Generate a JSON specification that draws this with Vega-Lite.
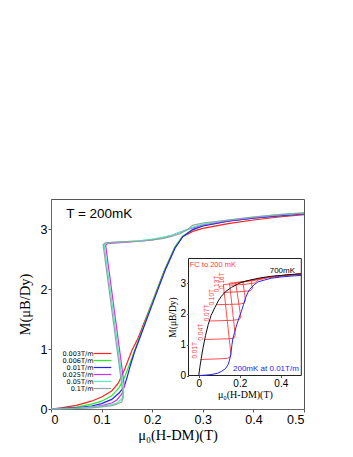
{
  "$schema": "https://vega.github.io/schema/vega-lite/v6.json",
  "autosize": "none",
  "width": 253,
  "height": 210,
  "padding": {"left": 51, "top": 199, "right": 49, "bottom": 48},
  "background": "white",
  "config": {
    "view": {"stroke": "#555", "strokeWidth": 1},
    "axis": {"grid": false, "domainColor": "#666", "tickColor": "#555", "labelFont": "Liberation Sans", "titleFont": "Liberation Serif", "titleFontWeight": "normal", "labelColor": "#000", "titleColor": "#000"}
  },
  "datasets": {
    "main": [
      {"s": "0.003T/m", "i": 0, "h": 0, "m": 0},
      {"s": "0.003T/m", "i": 1, "h": 0.02, "m": 0.02},
      {"s": "0.003T/m", "i": 2, "h": 0.05, "m": 0.06},
      {"s": "0.003T/m", "i": 3, "h": 0.08, "m": 0.13},
      {"s": "0.003T/m", "i": 4, "h": 0.1, "m": 0.2},
      {"s": "0.003T/m", "i": 5, "h": 0.12, "m": 0.3},
      {"s": "0.003T/m", "i": 6, "h": 0.133, "m": 0.43},
      {"s": "0.003T/m", "i": 7, "h": 0.145, "m": 0.65},
      {"s": "0.003T/m", "i": 8, "h": 0.16, "m": 0.98},
      {"s": "0.003T/m", "i": 9, "h": 0.172, "m": 1.18},
      {"s": "0.003T/m", "i": 10, "h": 0.2, "m": 1.78},
      {"s": "0.003T/m", "i": 11, "h": 0.225, "m": 2.33},
      {"s": "0.003T/m", "i": 12, "h": 0.245, "m": 2.7},
      {"s": "0.003T/m", "i": 13, "h": 0.26, "m": 2.87},
      {"s": "0.003T/m", "i": 14, "h": 0.28, "m": 2.96},
      {"s": "0.003T/m", "i": 15, "h": 0.3, "m": 3.01},
      {"s": "0.003T/m", "i": 16, "h": 0.35, "m": 3.09},
      {"s": "0.003T/m", "i": 17, "h": 0.4, "m": 3.15},
      {"s": "0.003T/m", "i": 18, "h": 0.45, "m": 3.2},
      {"s": "0.003T/m", "i": 19, "h": 0.5, "m": 3.24},

      {"s": "0.006T/m", "i": 0, "h": 0, "m": 0},
      {"s": "0.006T/m", "i": 1, "h": 0.02, "m": 0.01},
      {"s": "0.006T/m", "i": 2, "h": 0.05, "m": 0.03},
      {"s": "0.006T/m", "i": 3, "h": 0.08, "m": 0.08},
      {"s": "0.006T/m", "i": 4, "h": 0.1, "m": 0.13},
      {"s": "0.006T/m", "i": 5, "h": 0.12, "m": 0.22},
      {"s": "0.006T/m", "i": 6, "h": 0.135, "m": 0.36},
      {"s": "0.006T/m", "i": 7, "h": 0.145, "m": 0.52},
      {"s": "0.006T/m", "i": 8, "h": 0.155, "m": 0.74},
      {"s": "0.006T/m", "i": 9, "h": 0.165, "m": 0.97},
      {"s": "0.006T/m", "i": 10, "h": 0.173, "m": 1.15},
      {"s": "0.006T/m", "i": 11, "h": 0.2, "m": 1.77},
      {"s": "0.006T/m", "i": 12, "h": 0.225, "m": 2.32},
      {"s": "0.006T/m", "i": 13, "h": 0.245, "m": 2.7},
      {"s": "0.006T/m", "i": 14, "h": 0.26, "m": 2.88},
      {"s": "0.006T/m", "i": 15, "h": 0.28, "m": 2.99},
      {"s": "0.006T/m", "i": 16, "h": 0.3, "m": 3.05},
      {"s": "0.006T/m", "i": 17, "h": 0.35, "m": 3.13},
      {"s": "0.006T/m", "i": 18, "h": 0.4, "m": 3.18},
      {"s": "0.006T/m", "i": 19, "h": 0.45, "m": 3.22},
      {"s": "0.006T/m", "i": 20, "h": 0.5, "m": 3.25},

      {"s": "0.01T/m", "i": 0, "h": 0, "m": 0},
      {"s": "0.01T/m", "i": 1, "h": 0.02, "m": 0.01},
      {"s": "0.01T/m", "i": 2, "h": 0.05, "m": 0.02},
      {"s": "0.01T/m", "i": 3, "h": 0.08, "m": 0.05},
      {"s": "0.01T/m", "i": 4, "h": 0.1, "m": 0.09},
      {"s": "0.01T/m", "i": 5, "h": 0.12, "m": 0.16},
      {"s": "0.01T/m", "i": 6, "h": 0.135, "m": 0.27},
      {"s": "0.01T/m", "i": 7, "h": 0.145, "m": 0.38},
      {"s": "0.01T/m", "i": 8, "h": 0.15, "m": 0.52},
      {"s": "0.01T/m", "i": 9, "h": 0.157, "m": 0.73},
      {"s": "0.01T/m", "i": 10, "h": 0.165, "m": 0.95},
      {"s": "0.01T/m", "i": 11, "h": 0.174, "m": 1.15},
      {"s": "0.01T/m", "i": 12, "h": 0.2, "m": 1.74},
      {"s": "0.01T/m", "i": 13, "h": 0.225, "m": 2.3},
      {"s": "0.01T/m", "i": 14, "h": 0.245, "m": 2.68},
      {"s": "0.01T/m", "i": 15, "h": 0.26, "m": 2.87},
      {"s": "0.01T/m", "i": 16, "h": 0.28, "m": 2.99},
      {"s": "0.01T/m", "i": 17, "h": 0.3, "m": 3.05},
      {"s": "0.01T/m", "i": 18, "h": 0.35, "m": 3.13},
      {"s": "0.01T/m", "i": 19, "h": 0.4, "m": 3.18},
      {"s": "0.01T/m", "i": 20, "h": 0.45, "m": 3.22},
      {"s": "0.01T/m", "i": 21, "h": 0.5, "m": 3.25},

      {"s": "0.025T/m", "i": 0, "h": 0, "m": 0},
      {"s": "0.025T/m", "i": 1, "h": 0.02, "m": 0.005},
      {"s": "0.025T/m", "i": 2, "h": 0.05, "m": 0.015},
      {"s": "0.025T/m", "i": 3, "h": 0.08, "m": 0.035},
      {"s": "0.025T/m", "i": 4, "h": 0.1, "m": 0.055},
      {"s": "0.025T/m", "i": 5, "h": 0.12, "m": 0.1},
      {"s": "0.025T/m", "i": 6, "h": 0.13, "m": 0.15},
      {"s": "0.025T/m", "i": 7, "h": 0.14, "m": 0.25},
      {"s": "0.025T/m", "i": 8, "h": 0.145, "m": 0.38},
      {"s": "0.025T/m", "i": 9, "h": 0.108, "m": 2.73},
      {"s": "0.025T/m", "i": 10, "h": 0.112, "m": 2.76},
      {"s": "0.025T/m", "i": 11, "h": 0.13, "m": 2.77},
      {"s": "0.025T/m", "i": 12, "h": 0.15, "m": 2.78},
      {"s": "0.025T/m", "i": 13, "h": 0.18, "m": 2.8},
      {"s": "0.025T/m", "i": 14, "h": 0.2, "m": 2.82},
      {"s": "0.025T/m", "i": 15, "h": 0.22, "m": 2.85},
      {"s": "0.025T/m", "i": 16, "h": 0.24, "m": 2.9},
      {"s": "0.025T/m", "i": 17, "h": 0.26, "m": 2.96},
      {"s": "0.025T/m", "i": 18, "h": 0.28, "m": 3.02},
      {"s": "0.025T/m", "i": 19, "h": 0.3, "m": 3.07},
      {"s": "0.025T/m", "i": 20, "h": 0.35, "m": 3.14},
      {"s": "0.025T/m", "i": 21, "h": 0.4, "m": 3.19},
      {"s": "0.025T/m", "i": 22, "h": 0.45, "m": 3.23},
      {"s": "0.025T/m", "i": 23, "h": 0.5, "m": 3.26},

      {"s": "0.05T/m", "i": 0, "h": 0, "m": 0},
      {"s": "0.05T/m", "i": 1, "h": 0.02, "m": 0.004},
      {"s": "0.05T/m", "i": 2, "h": 0.05, "m": 0.01},
      {"s": "0.05T/m", "i": 3, "h": 0.08, "m": 0.03},
      {"s": "0.05T/m", "i": 4, "h": 0.1, "m": 0.045},
      {"s": "0.05T/m", "i": 5, "h": 0.12, "m": 0.075},
      {"s": "0.05T/m", "i": 6, "h": 0.13, "m": 0.1},
      {"s": "0.05T/m", "i": 7, "h": 0.14, "m": 0.17},
      {"s": "0.05T/m", "i": 8, "h": 0.144, "m": 0.28},
      {"s": "0.05T/m", "i": 9, "h": 0.105, "m": 2.74},
      {"s": "0.05T/m", "i": 10, "h": 0.11, "m": 2.77},
      {"s": "0.05T/m", "i": 11, "h": 0.13, "m": 2.78},
      {"s": "0.05T/m", "i": 12, "h": 0.15, "m": 2.79},
      {"s": "0.05T/m", "i": 13, "h": 0.18, "m": 2.81},
      {"s": "0.05T/m", "i": 14, "h": 0.2, "m": 2.83},
      {"s": "0.05T/m", "i": 15, "h": 0.22, "m": 2.86},
      {"s": "0.05T/m", "i": 16, "h": 0.24, "m": 2.9},
      {"s": "0.05T/m", "i": 17, "h": 0.26, "m": 2.96},
      {"s": "0.05T/m", "i": 18, "h": 0.28, "m": 3.03},
      {"s": "0.05T/m", "i": 19, "h": 0.3, "m": 3.08},
      {"s": "0.05T/m", "i": 20, "h": 0.35, "m": 3.15},
      {"s": "0.05T/m", "i": 21, "h": 0.4, "m": 3.2},
      {"s": "0.05T/m", "i": 22, "h": 0.45, "m": 3.24},
      {"s": "0.05T/m", "i": 23, "h": 0.5, "m": 3.27},

      {"s": "0.1T/m", "i": 0, "h": 0, "m": 0},
      {"s": "0.1T/m", "i": 1, "h": 0.02, "m": 0.003},
      {"s": "0.1T/m", "i": 2, "h": 0.05, "m": 0.008},
      {"s": "0.1T/m", "i": 3, "h": 0.08, "m": 0.02},
      {"s": "0.1T/m", "i": 4, "h": 0.1, "m": 0.035},
      {"s": "0.1T/m", "i": 5, "h": 0.12, "m": 0.055},
      {"s": "0.1T/m", "i": 6, "h": 0.13, "m": 0.08},
      {"s": "0.1T/m", "i": 7, "h": 0.14, "m": 0.12},
      {"s": "0.1T/m", "i": 8, "h": 0.143, "m": 0.2},
      {"s": "0.1T/m", "i": 9, "h": 0.103, "m": 2.74},
      {"s": "0.1T/m", "i": 10, "h": 0.108, "m": 2.77},
      {"s": "0.1T/m", "i": 11, "h": 0.13, "m": 2.78},
      {"s": "0.1T/m", "i": 12, "h": 0.15, "m": 2.79},
      {"s": "0.1T/m", "i": 13, "h": 0.18, "m": 2.8},
      {"s": "0.1T/m", "i": 14, "h": 0.2, "m": 2.82},
      {"s": "0.1T/m", "i": 15, "h": 0.22, "m": 2.84},
      {"s": "0.1T/m", "i": 16, "h": 0.24, "m": 2.88},
      {"s": "0.1T/m", "i": 17, "h": 0.255, "m": 2.92},
      {"s": "0.1T/m", "i": 18, "h": 0.27, "m": 2.99},
      {"s": "0.1T/m", "i": 19, "h": 0.28, "m": 3.06},
      {"s": "0.1T/m", "i": 20, "h": 0.3, "m": 3.1},
      {"s": "0.1T/m", "i": 21, "h": 0.35, "m": 3.15},
      {"s": "0.1T/m", "i": 22, "h": 0.4, "m": 3.2},
      {"s": "0.1T/m", "i": 23, "h": 0.45, "m": 3.24},
      {"s": "0.1T/m", "i": 24, "h": 0.5, "m": 3.27}
    ],
    "inset": [
      {"c": "700mK", "i": 0, "h": 0, "m": 0},
      {"c": "700mK", "i": 1, "h": 0.005, "m": 0.25},
      {"c": "700mK", "i": 2, "h": 0.012, "m": 0.55},
      {"c": "700mK", "i": 3, "h": 0.021, "m": 0.9},
      {"c": "700mK", "i": 4, "h": 0.033, "m": 1.3},
      {"c": "700mK", "i": 5, "h": 0.046, "m": 1.65},
      {"c": "700mK", "i": 6, "h": 0.06, "m": 1.95},
      {"c": "700mK", "i": 7, "h": 0.078, "m": 2.2},
      {"c": "700mK", "i": 8, "h": 0.095, "m": 2.42},
      {"c": "700mK", "i": 9, "h": 0.11, "m": 2.57},
      {"c": "700mK", "i": 10, "h": 0.13, "m": 2.72},
      {"c": "700mK", "i": 11, "h": 0.159, "m": 2.86},
      {"c": "700mK", "i": 12, "h": 0.19, "m": 2.97},
      {"c": "700mK", "i": 13, "h": 0.21, "m": 3.03},
      {"c": "700mK", "i": 14, "h": 0.25, "m": 3.1},
      {"c": "700mK", "i": 15, "h": 0.3, "m": 3.17},
      {"c": "700mK", "i": 16, "h": 0.35, "m": 3.22},
      {"c": "700mK", "i": 17, "h": 0.4, "m": 3.25},
      {"c": "700mK", "i": 18, "h": 0.45, "m": 3.28},
      {"c": "700mK", "i": 19, "h": 0.5, "m": 3.3},

      {"c": "200mK", "i": 0, "h": 0.0, "m": 0.0},
      {"c": "200mK", "i": 1, "h": 0.03, "m": 0.01},
      {"c": "200mK", "i": 2, "h": 0.06, "m": 0.03},
      {"c": "200mK", "i": 3, "h": 0.09, "m": 0.07},
      {"c": "200mK", "i": 4, "h": 0.11, "m": 0.13},
      {"c": "200mK", "i": 5, "h": 0.13, "m": 0.22},
      {"c": "200mK", "i": 6, "h": 0.143, "m": 0.35},
      {"c": "200mK", "i": 7, "h": 0.15, "m": 0.5},
      {"c": "200mK", "i": 8, "h": 0.156, "m": 0.68},
      {"c": "200mK", "i": 9, "h": 0.162, "m": 1.0},
      {"c": "200mK", "i": 10, "h": 0.167, "m": 1.22},
      {"c": "200mK", "i": 11, "h": 0.175, "m": 1.4},
      {"c": "200mK", "i": 12, "h": 0.185, "m": 1.65},
      {"c": "200mK", "i": 13, "h": 0.192, "m": 1.78},
      {"c": "200mK", "i": 14, "h": 0.2, "m": 1.95},
      {"c": "200mK", "i": 15, "h": 0.208, "m": 2.08},
      {"c": "200mK", "i": 16, "h": 0.218, "m": 2.3},
      {"c": "200mK", "i": 17, "h": 0.228, "m": 2.52},
      {"c": "200mK", "i": 18, "h": 0.24, "m": 2.7},
      {"c": "200mK", "i": 19, "h": 0.249, "m": 2.8},
      {"c": "200mK", "i": 20, "h": 0.27, "m": 2.95},
      {"c": "200mK", "i": 21, "h": 0.289, "m": 3.04},
      {"c": "200mK", "i": 22, "h": 0.32, "m": 3.1},
      {"c": "200mK", "i": 23, "h": 0.354, "m": 3.16},
      {"c": "200mK", "i": 24, "h": 0.4, "m": 3.2},
      {"c": "200mK", "i": 25, "h": 0.45, "m": 3.23},
      {"c": "200mK", "i": 26, "h": 0.5, "m": 3.25},

      {"c": "FC 0.01T", "i": 0, "h": 0.01, "m": 0.52},
      {"c": "FC 0.01T", "i": 1, "h": 0.05, "m": 0.53},
      {"c": "FC 0.01T", "i": 2, "h": 0.1, "m": 0.54},
      {"c": "FC 0.01T", "i": 3, "h": 0.14, "m": 0.56},
      {"c": "FC 0.01T", "i": 4, "h": 0.153, "m": 0.6},
      {"c": "FC 0.01T", "i": 5, "h": 0.157, "m": 0.68},
      {"c": "FC 0.01T", "i": 6, "h": 0.12, "m": 2.95},
      {"c": "FC 0.01T", "i": 7, "h": 0.15, "m": 2.97},
      {"c": "FC 0.01T", "i": 8, "h": 0.2, "m": 3.02},
      {"c": "FC 0.01T", "i": 9, "h": 0.25, "m": 3.08},
      {"c": "FC 0.01T", "i": 10, "h": 0.3, "m": 3.15},
      {"c": "FC 0.01T", "i": 11, "h": 0.35, "m": 3.2},
      {"c": "FC 0.01T", "i": 12, "h": 0.4, "m": 3.24},
      {"c": "FC 0.01T", "i": 13, "h": 0.45, "m": 3.27},
      {"c": "FC 0.01T", "i": 14, "h": 0.5, "m": 3.3},

      {"c": "FC 0.04T", "i": 0, "h": 0.03, "m": 1.17},
      {"c": "FC 0.04T", "i": 1, "h": 0.08, "m": 1.18},
      {"c": "FC 0.04T", "i": 2, "h": 0.14, "m": 1.19},
      {"c": "FC 0.04T", "i": 3, "h": 0.172, "m": 1.21},
      {"c": "FC 0.04T", "i": 4, "h": 0.178, "m": 1.3},
      {"c": "FC 0.04T", "i": 5, "h": 0.15, "m": 3.0},
      {"c": "FC 0.04T", "i": 6, "h": 0.2, "m": 3.03},
      {"c": "FC 0.04T", "i": 7, "h": 0.25, "m": 3.08},
      {"c": "FC 0.04T", "i": 8, "h": 0.3, "m": 3.15},
      {"c": "FC 0.04T", "i": 9, "h": 0.35, "m": 3.2},
      {"c": "FC 0.04T", "i": 10, "h": 0.4, "m": 3.24},
      {"c": "FC 0.04T", "i": 11, "h": 0.45, "m": 3.27},
      {"c": "FC 0.04T", "i": 12, "h": 0.5, "m": 3.3},

      {"c": "FC 0.07T", "i": 0, "h": 0.055, "m": 1.77},
      {"c": "FC 0.07T", "i": 1, "h": 0.1, "m": 1.78},
      {"c": "FC 0.07T", "i": 2, "h": 0.16, "m": 1.79},
      {"c": "FC 0.07T", "i": 3, "h": 0.198, "m": 1.82},
      {"c": "FC 0.07T", "i": 4, "h": 0.205, "m": 1.9},
      {"c": "FC 0.07T", "i": 5, "h": 0.18, "m": 3.02},
      {"c": "FC 0.07T", "i": 6, "h": 0.22, "m": 3.05},
      {"c": "FC 0.07T", "i": 7, "h": 0.26, "m": 3.1},
      {"c": "FC 0.07T", "i": 8, "h": 0.3, "m": 3.15},
      {"c": "FC 0.07T", "i": 9, "h": 0.35, "m": 3.2},
      {"c": "FC 0.07T", "i": 10, "h": 0.4, "m": 3.24},
      {"c": "FC 0.07T", "i": 11, "h": 0.45, "m": 3.27},
      {"c": "FC 0.07T", "i": 12, "h": 0.5, "m": 3.3},

      {"c": "FC 0.10T", "i": 0, "h": 0.085, "m": 2.3},
      {"c": "FC 0.10T", "i": 1, "h": 0.15, "m": 2.31},
      {"c": "FC 0.10T", "i": 2, "h": 0.2, "m": 2.32},
      {"c": "FC 0.10T", "i": 3, "h": 0.222, "m": 2.35},
      {"c": "FC 0.10T", "i": 4, "h": 0.228, "m": 2.45},
      {"c": "FC 0.10T", "i": 5, "h": 0.215, "m": 3.04},
      {"c": "FC 0.10T", "i": 6, "h": 0.25, "m": 3.08},
      {"c": "FC 0.10T", "i": 7, "h": 0.3, "m": 3.15},
      {"c": "FC 0.10T", "i": 8, "h": 0.35, "m": 3.2},
      {"c": "FC 0.10T", "i": 9, "h": 0.4, "m": 3.24},
      {"c": "FC 0.10T", "i": 10, "h": 0.45, "m": 3.27},
      {"c": "FC 0.10T", "i": 11, "h": 0.5, "m": 3.3},

      {"c": "FC 0.13T", "i": 0, "h": 0.12, "m": 2.7},
      {"c": "FC 0.13T", "i": 1, "h": 0.2, "m": 2.72},
      {"c": "FC 0.13T", "i": 2, "h": 0.25, "m": 2.75},
      {"c": "FC 0.13T", "i": 3, "h": 0.262, "m": 2.82},
      {"c": "FC 0.13T", "i": 4, "h": 0.255, "m": 3.06},
      {"c": "FC 0.13T", "i": 5, "h": 0.3, "m": 3.14},
      {"c": "FC 0.13T", "i": 6, "h": 0.35, "m": 3.2},
      {"c": "FC 0.13T", "i": 7, "h": 0.4, "m": 3.24},
      {"c": "FC 0.13T", "i": 8, "h": 0.45, "m": 3.27},
      {"c": "FC 0.13T", "i": 9, "h": 0.5, "m": 3.3},

      {"c": "FC 0.16T", "i": 0, "h": 0.155, "m": 2.93},
      {"c": "FC 0.16T", "i": 1, "h": 0.22, "m": 2.96},
      {"c": "FC 0.16T", "i": 2, "h": 0.27, "m": 3.0},
      {"c": "FC 0.16T", "i": 3, "h": 0.29, "m": 3.1},
      {"c": "FC 0.16T", "i": 4, "h": 0.35, "m": 3.2},
      {"c": "FC 0.16T", "i": 5, "h": 0.4, "m": 3.24},
      {"c": "FC 0.16T", "i": 6, "h": 0.45, "m": 3.27},
      {"c": "FC 0.16T", "i": 7, "h": 0.5, "m": 3.3}
    ],
    "fclabels": [
      {"t": "0.01T", "h": -0.016, "m": 0.82},
      {"t": "0.04T", "h": 0.01, "m": 1.41},
      {"t": "0.07T", "h": 0.041, "m": 2.03},
      {"t": "0.10T", "h": 0.065, "m": 2.54},
      {"t": "0.13T", "h": 0.088, "m": 2.97},
      {"t": "0.16T", "h": 0.114, "m": 3.08}
    ]
  },
  "layer": [
    {
      "layer": [
        {
          "data": {"name": "main"},
          "mark": {"type": "line", "strokeWidth": 1.2},
          "encoding": {
            "x": {"field": "h", "type": "quantitative", "scale": {"domain": [0, 0.5], "nice": false, "zero": false},
              "axis": {"values": [0, 0.1, 0.2, 0.3, 0.4, 0.5], "format": "~g", "labelFontSize": 12.5, "tickSize": 3, "labelPadding": 1, "title": "μ₀(H-DM)(T)", "titleFontSize": 14.5, "titlePadding": 3}},
            "y": {"field": "m", "type": "quantitative", "scale": {"domain": [0, 3.5], "nice": false, "zero": false},
              "axis": {"values": [0, 1, 2, 3], "format": "d", "labelFontSize": 12.5, "tickSize": 3, "labelPadding": 1, "title": "M(μB/Dy)", "titleFontSize": 14.5, "titlePadding": 8}},
            "color": {"field": "s", "type": "nominal",
              "scale": {"domain": ["0.003T/m", "0.006T/m", "0.01T/m", "0.025T/m", "0.05T/m", "0.1T/m"], "range": ["#ff2020", "#22ee22", "#2020ff", "#cc33ee", "#55eebb", "#8aa6a0"]},
              "legend": {"orient": "none", "legendX": 48, "legendY": 151, "title": null, "symbolType": "M-3.5,0H3.5", "symbolSize": 25, "symbolStrokeWidth": 1.2, "labelFontSize": 6.5, "labelFont": "DejaVu Sans", "labelAlign": "right", "labelOffset": -12.5, "rowPadding": 0, "padding": 0}},
            "order": {"field": "i", "type": "quantitative"}
          }
        },
        {
          "data": {"values": [{}]},
          "mark": {"type": "text", "align": "left", "baseline": "alphabetic", "fontSize": 13.5, "font": "Liberation Sans", "color": "#000"},
          "encoding": {"x": {"datum": 0.03, "type": "quantitative"}, "y": {"datum": 3.19, "type": "quantitative"}, "text": {"value": "T = 200mK"}}
        }
      ]
    },
    {
      "layer": [
        {
          "data": {"values": [{}]},
          "mark": {"type": "rect", "fill": "white", "stroke": "#222", "strokeWidth": 1},
          "encoding": {
            "x": {"datum": -0.05, "type": "quantitative", "scale": {"domain": [-0.05, 0.5], "range": [137.5, 250.3], "nice": false, "zero": false},
              "axis": {"orient": "bottom", "offset": -33.5, "values": [0, 0.2, 0.4], "format": "~g", "labelFontSize": 10, "tickSize": 2, "labelPadding": 1, "domain": false, "title": "μ₀(H-DM)(T)", "titleFontSize": 10, "titlePadding": 1, "zindex": 1}},
            "x2": {"datum": 0.5},
            "y": {"datum": 0, "type": "quantitative", "scale": {"domain": [0, 3.8], "range": [176.5, 59.5], "nice": false, "zero": false},
              "axis": {"orient": "left", "offset": -137.5, "values": [0, 1, 2, 3], "format": "d", "labelFontSize": 10, "tickSize": 2, "labelPadding": 1, "domain": false, "title": "M(μB/Dy)", "titleFontSize": 9.5, "titlePadding": 2, "zindex": 1}},
            "y2": {"datum": 3.8}
          }
        },
        {
          "data": {"name": "inset"},
          "transform": [{"filter": "indexof(datum.c, 'FC') == 0"}],
          "mark": {"type": "line", "strokeWidth": 0.9, "color": "#ff3b3b"},
          "encoding": {"x": {"field": "h", "type": "quantitative"}, "y": {"field": "m", "type": "quantitative"}, "detail": {"field": "c"}, "order": {"field": "i", "type": "quantitative"}}
        },
        {
          "data": {"name": "inset"},
          "transform": [{"filter": "datum.c == '700mK'"}],
          "mark": {"type": "line", "strokeWidth": 1, "color": "#111"},
          "encoding": {"x": {"field": "h", "type": "quantitative"}, "y": {"field": "m", "type": "quantitative"}, "order": {"field": "i", "type": "quantitative"}}
        },
        {
          "data": {"name": "inset"},
          "transform": [{"filter": "datum.c == '200mK'"}],
          "mark": {"type": "line", "strokeWidth": 1, "color": "#2222ff"},
          "encoding": {"x": {"field": "h", "type": "quantitative"}, "y": {"field": "m", "type": "quantitative"}, "order": {"field": "i", "type": "quantitative"}}
        },
        {
          "data": {"name": "fclabels"},
          "mark": {"type": "text", "angle": 270, "align": "center", "baseline": "middle", "fontSize": 6.5, "font": "Liberation Sans", "color": "#ff3b3b"},
          "encoding": {"x": {"field": "h", "type": "quantitative"}, "y": {"field": "m", "type": "quantitative"}, "text": {"field": "t"}}
        },
        {
          "data": {"values": [{}]},
          "mark": {"type": "text", "align": "left", "baseline": "alphabetic", "fontSize": 7.5, "font": "Liberation Sans", "color": "#ff3b3b"},
          "encoding": {"x": {"datum": -0.044, "type": "quantitative"}, "y": {"datum": 3.54, "type": "quantitative"}, "text": {"value": "FC to 200 mK"}}
        },
        {
          "data": {"values": [{}]},
          "mark": {"type": "text", "align": "left", "baseline": "alphabetic", "fontSize": 8, "font": "Liberation Sans", "color": "#000"},
          "encoding": {"x": {"datum": 0.346, "type": "quantitative"}, "y": {"datum": 3.33, "type": "quantitative"}, "text": {"value": "700mK"}}
        },
        {
          "data": {"values": [{}]},
          "mark": {"type": "text", "align": "left", "baseline": "alphabetic", "fontSize": 8, "font": "Liberation Sans", "color": "#2222ff"},
          "encoding": {"x": {"datum": 0.167, "type": "quantitative"}, "y": {"datum": 0.146, "type": "quantitative"}, "text": {"value": "200mK at 0.01T/m"}}
        }
      ]
    }
  ],
  "resolve": {"scale": {"x": "independent", "y": "independent"}}
}
